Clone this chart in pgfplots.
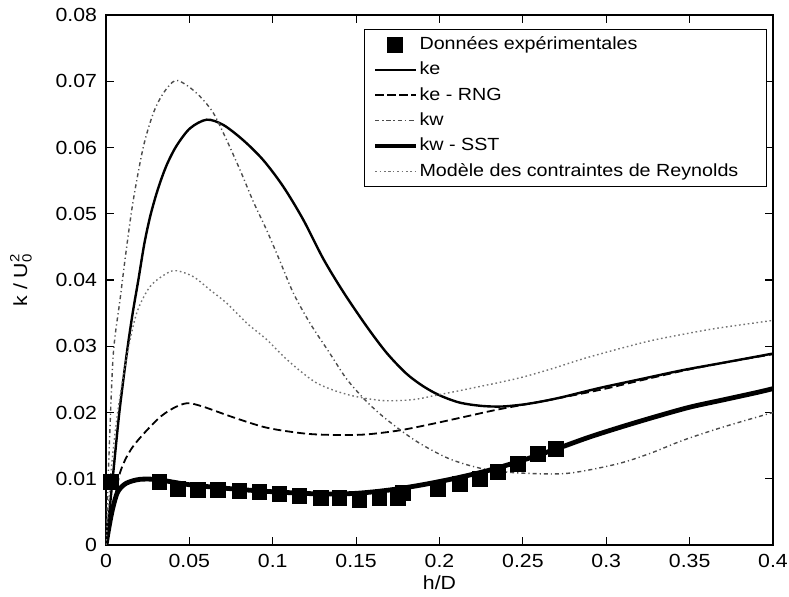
\documentclass[border=0pt]{standalone}
\usepackage{pgfplots}
\pgfplotsset{compat=1.18}
\usepackage{amsmath}
\usepackage{fontspec}
\setmainfont{Liberation Sans}[FakeStretch=1.12]
\pgfplotsset{marklegend/.style={legend image code/.code={\draw[##1] plot coordinates {(0.35cm,0cm)};}}}
\begin{document}
\begin{tikzpicture}
\begin{axis}[
  scale only axis,
  width=333.5pt, height=265pt,
  xmin=0, xmax=0.4, ymin=0, ymax=0.08,
  xtick={0,0.05,...,0.4},
  ytick={0,0.01,...,0.08},
  xticklabels={0,0.05,0.1,0.15,0.2,0.25,0.3,0.35,0.4},
  yticklabels={0,0.01,0.02,0.03,0.04,0.05,0.06,0.07,0.08},
  tick align=inside,
  major tick length=4pt,
  axis line style={line width=0.8pt},
  every tick/.style={black, line width=0.6pt},
  tick label style={font=\fontsize{9.5}{11}\selectfont},
  xticklabel style={yshift=-1pt},
  yticklabel style={xshift=-1pt},
  xlabel={h/D},
  ylabel={k / U$_{\text{0}}^{\text{2}}$},
  label style={font=\fontsize{9.5}{11}\selectfont},
  x label style={at={(axis description cs:0.5,0)}, yshift=-19pt, anchor=center},
  y label style={at={(axis description cs:0,0.5)}, yshift=42.5pt, anchor=center},
  legend cell align=left,
  legend style={at={(rel axis cs:0.991,0.974)}, anchor=north east,
    font=\fontsize{8.8}{10}\selectfont, draw=black, line width=0.6pt,
    nodes={inner sep=1pt, text height=6.6pt, text depth=1.8pt},
    row sep=2.25pt, inner xsep=4pt, inner ysep=2.5pt},
  legend image code/.code={\draw[#1] plot coordinates {(0cm,0cm) (0.35cm,0cm) (0.7cm,0cm)};},
]
\addplot[only marks, mark=square*, mark size=3.7pt, black, marklegend]
coordinates {
(0.003,0.0095) (0.032,0.0095) (0.043,0.0085) (0.055,0.0083) (0.067,0.0083)
(0.080,0.0082) (0.092,0.0080) (0.104,0.0077) (0.116,0.0074) (0.129,0.0071)
(0.140,0.0071) (0.152,0.0068) (0.164,0.0071) (0.175,0.0071) (0.178,0.0079)
(0.199,0.0085) (0.212,0.0092) (0.224,0.0100) (0.235,0.0110) (0.247,0.0122)
(0.259,0.0137) (0.270,0.0145)
};
\addlegendentry{Données expérimentales}
\addplot[black, line width=1.2pt, smooth] coordinates {
(0,0) (0.004,0.010) (0.008,0.020) (0.0125,0.029) (0.016,0.035) (0.0194,0.040) (0.023,0.0455)
(0.0264,0.0495) (0.030,0.0528) (0.0334,0.0554) (0.037,0.0577) (0.0424,0.0603) (0.0504,0.0629)
(0.0604,0.0642) (0.0704,0.0634)
(0.0823,0.0611) (0.0943,0.0581) (0.1063,0.0541) (0.1183,0.0491) (0.1303,0.0432)
(0.1423,0.0382) (0.1563,0.0330) (0.1683,0.0290) (0.18,0.0259) (0.19,0.0240) (0.2,0.0226)
(0.212,0.0215) (0.225,0.0210) (0.237,0.0209) (0.25,0.0212) (0.262,0.0217) (0.275,0.0224)
(0.296,0.0237) (0.32,0.0250) (0.346,0.0264) (0.37,0.0275) (0.4,0.0289)
};
\addlegendentry{ke}
\addplot[black, line width=0.9pt, dash pattern=on 4pt off 2pt, smooth] coordinates {
(0,0) (0.004,0.005) (0.0084,0.0109) (0.016,0.0148) (0.0306,0.0189) (0.04,0.0206)
(0.0486,0.0214) (0.058,0.0209) (0.076,0.0193) (0.0965,0.0177) (0.12,0.0168) (0.14,0.0166)
(0.1565,0.0167) (0.176,0.0173) (0.196,0.0183) (0.216,0.0194) (0.236,0.0205) (0.266,0.0219)
(0.296,0.0234) (0.32,0.0248) (0.346,0.0263) (0.37,0.0275) (0.4,0.0288)
};
\addlegendentry{ke - RNG}
\addplot[black!70, line width=0.7pt, dash pattern=on 2pt off 1.5pt on 0.6pt off 1.5pt, smooth] coordinates {
(0,0) (0.002,0.015) (0.0044,0.0289) (0.0084,0.037) (0.0124,0.045) (0.0164,0.0521)
(0.0224,0.0601) (0.0284,0.0652) (0.0344,0.0682) (0.0414,0.0701) (0.0484,0.0694)
(0.0564,0.0677) (0.0644,0.0652) (0.0724,0.0611) (0.0804,0.0566) (0.0884,0.0518)
(0.0964,0.0475) (0.1044,0.0428) (0.1124,0.0380) (0.1223,0.0335) (0.1343,0.0289)
(0.1445,0.0250) (0.1565,0.0216) (0.1685,0.0189) (0.1865,0.0156) (0.206,0.0130)
(0.226,0.0115) (0.246,0.0109) (0.276,0.0108) (0.306,0.0122) (0.326,0.0138) (0.346,0.0158)
(0.37,0.0178) (0.4,0.0200)
};
\addlegendentry{kw}
\addplot[black, line width=2.4pt, smooth] coordinates {
(0,0) (0.002,0.003) (0.004,0.0055) (0.007,0.008) (0.012,0.0093) (0.02,0.0099) (0.03,0.0099)
(0.04,0.0095) (0.05,0.0091) (0.07,0.0086) (0.09,0.0082) (0.11,0.0079) (0.13,0.0077)
(0.15,0.0078) (0.17,0.0083) (0.19,0.0091) (0.21,0.0101) (0.23,0.0113) (0.25,0.0128)
(0.27,0.0145) (0.29,0.0163) (0.31,0.0179) (0.33,0.0194) (0.35,0.0208) (0.37,0.0219)
(0.39,0.0230) (0.4,0.0236)
};
\addlegendentry{kw - SST}
\addplot[black!55, line width=0.7pt, dash pattern=on 0.8pt off 1.4pt, smooth] coordinates {
(0,0) (0.003,0.011) (0.007,0.020) (0.0124,0.0284) (0.0184,0.035) (0.0264,0.039)
(0.0364,0.041) (0.0424,0.0414) (0.0524,0.0405) (0.0624,0.0385) (0.0724,0.0365)
(0.0844,0.0335) (0.0964,0.031) (0.1063,0.0285) (0.1163,0.0263) (0.126,0.0245)
(0.136,0.0234) (0.1465,0.0226) (0.1565,0.0221) (0.166,0.0218) (0.176,0.0218)
(0.186,0.0220) (0.196,0.0225) (0.216,0.0235) (0.246,0.0251) (0.266,0.0265) (0.286,0.0281)
(0.306,0.0295) (0.326,0.0308) (0.346,0.0318) (0.366,0.0327) (0.4,0.0339)
};
\addlegendentry{Modèle des contraintes de Reynolds\rule{9pt}{0pt}}
\end{axis}
\pgfresetboundingbox
\path[use as bounding box] (current axis.south west) ++(-53pt,-26pt) rectangle ([xshift=8pt,yshift=7.5pt]current axis.north east);
\end{tikzpicture}
\end{document}
